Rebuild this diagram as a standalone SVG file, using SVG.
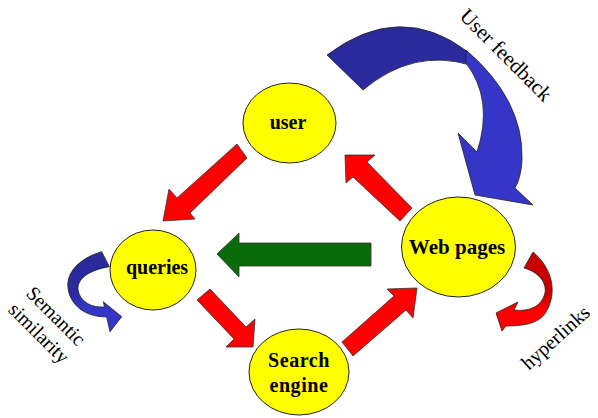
<svg xmlns="http://www.w3.org/2000/svg" width="598" height="418" viewBox="0 0 598 418">
<style>
.node{fill:#ffff00;stroke:#222;stroke-width:1}
.lbl{font-family:"Liberation Serif","Times New Roman",serif;font-size:20px;font-weight:bold;fill:#000;text-anchor:middle}
.side{font-family:"Liberation Serif","Times New Roman",serif;font-size:20px;fill:#000;text-anchor:middle}
.red{fill:#ff0000;stroke:#333;stroke-width:0.8;stroke-linejoin:round}
.green{fill:#0a6b0a;stroke:#333;stroke-width:0.8}
.blue{stroke:#222;stroke-width:0.8;stroke-linejoin:round}
</style>
<defs>
<linearGradient id="gBlue" x1="0" y1="0" x2="0" y2="1">
<stop offset="0" stop-color="#2a2a9c"/><stop offset="0.5" stop-color="#2a2a9c"/><stop offset="0.7" stop-color="#3535c8"/><stop offset="1" stop-color="#3535c8"/>
</linearGradient>
<linearGradient id="gRed" x1="0" y1="0" x2="0" y2="1">
<stop offset="0" stop-color="#c80000"/><stop offset="0.55" stop-color="#c80000"/><stop offset="0.72" stop-color="#ff0000"/><stop offset="1" stop-color="#ff0000"/>
</linearGradient>
</defs>
<rect width="598" height="418" fill="#fff"/>
<g id="connectors">
<polygon class="red" points="237,144 247,158 190,213 195,219 163,221 169,189 177,198"/>
<polygon class="red" points="345,155 375,155 367,162 412,208 400,221 353,177 346,183"/>
<polygon class="green" points="217,254 239,233 239,243 371,243 371,266 239,266 239,277"/>
<polygon class="red" points="210,289 246,327 255,319 253,347 226,347 234,339 197,300"/>
<polygon class="red" points="342,342 394,296 387,289 417,288 413,318 406,310 353,356"/>
<path class="blue" fill="#2a2a9c" d="M327,55 Q400,0 468,52 L470,65 Q413,48 363,90 Z"/>
<path class="blue" fill="#3535c8" d="M466,50 Q524,100 522,160 Q521,178 515,188 L533,205 L475,195 L458,133 L477,152 Q494,100 466,63 Z"/>
<path class="blue" fill="url(#gBlue)" d="M101.7,251.7 C80,258 66,272 68,288 C70,305 85,317 106.7,317 L110,331.7 L121.7,316.7 L103.3,301.7 L104.5,307 C92,308 80,302 78,290 C77,278 90,270 109.3,266.7 Z"/>
<path class="blue" fill="url(#gRed)" d="M533,252 C552,268 558,292 546,312 C540,322 528,326 506,326 L502,331 L496,313 L518,302 L514,310 C530,312 542,306 545,293 C547,282 538,272 524,268 Z"/>
</g>
<g id="user">
<ellipse class="node" cx="289.5" cy="123" rx="46.5" ry="40"/>
<text class="lbl" x="288" y="129">user</text>
</g>
<g id="queries">
<ellipse class="node" cx="153" cy="270" rx="43" ry="40"/>
<text class="lbl" x="157" y="274">queries</text>
</g>
<g id="search-engine">
<ellipse class="node" cx="299" cy="372" rx="50" ry="43"/>
<text class="lbl" x="299" y="367" letter-spacing="0.6">Search</text>
<text class="lbl" x="299" y="392" letter-spacing="0.6">engine</text>
</g>
<g id="web-pages">
<ellipse class="node" cx="458.5" cy="247" rx="57" ry="50"/>
<text class="lbl" x="457" y="254" style="font-size:21px">Web pages</text>
</g>
<g id="labels">
<text class="side" transform="translate(506,55) rotate(45)" y="7" style="font-size:21px">User feedback</text>
<g transform="translate(47,325) rotate(45)">
<text class="side" y="-6">Semantic</text>
<text class="side" y="18">similarity</text>
</g>
<text class="side" transform="translate(556,338) rotate(-42)" y="6">hyperlinks</text>
</g>
</svg>
